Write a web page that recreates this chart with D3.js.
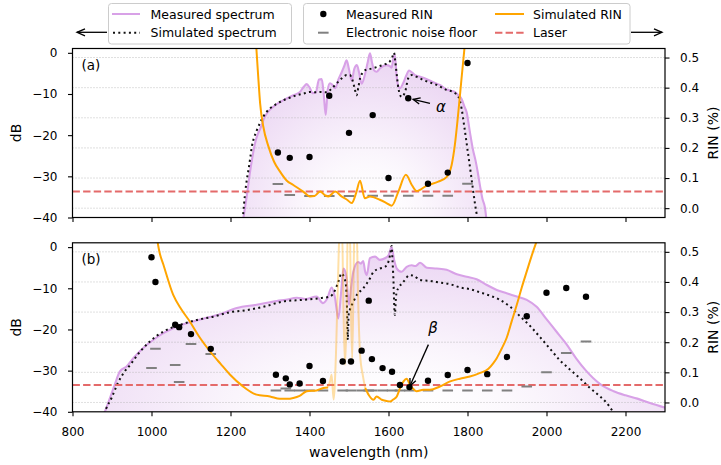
<!DOCTYPE html>
<html><head><meta charset="utf-8">
<script src="https://cdn.jsdelivr.net/npm/d3@7"></script>
<style>
html,body{margin:0;padding:0;background:#fff;}
svg{display:block;font-family:"DejaVu Sans",sans-serif;}
</style></head><body>
<svg id="chart" width="721" height="465"></svg>
<script>
// ---- axis ticks ----
const wavelengthTicks = [800, 1000, 1200, 1400, 1600, 1800, 2000, 2200];
const dbTicks = [0, -10, -20, -30, -40];
const rinTicks = [0, 0.1, 0.2, 0.3, 0.4, 0.5];

// ---- panel (a) ----
// measured spectrum [wavelength nm, dB]
const measSpecA = [[1232,-40.5],[1236,-38],[1241,-34.9],[1249,-29.2],[1256,-25],[1262,-22],[1268,-20],[1275,-18.5],
  [1287,-15.5],[1300,-13.8],[1315,-12.6],[1334,-11.5],[1359,-10.3],[1375,-9.6],[1385,-8.3],[1393,-7.6],[1400,-8.4],
  [1408,-9.8],[1416,-9.6],[1424,-6.5],[1431,-6.4],[1436,-10],[1441,-15.1],[1446,-9],[1452,-7.4],[1458,-7.8],[1465,-8.6],
  [1473,-6.5],[1482,-4.6],[1488,-3.2],[1494,-1.8],[1500,-4],[1507,-6.8],[1513,-4],[1520,-3.0],[1526,-5],[1532,-7.5],
  [1540,-5.4],[1547,-2.5],[1553,-0.1],[1558,-2.2],[1563,-4.2],[1570,-4.6],[1578,-3.8],[1587,-3.2],[1595,-3.0],[1603,-3.2],
  [1608,-3.6],[1612,-1.5],[1616,-0.4],[1620,-5],[1624,-7.8],[1629,-8.6],[1637,-7.4],[1645,-5.5],[1652,-4.3],[1660,-4.8],
  [1667,-5.4],[1680,-5.8],[1697,-6.4],[1715,-7.2],[1730,-7.8],[1747,-8.9],[1758,-9.2],[1768,-9.5],[1777,-10.3],[1785,-11.2],
  [1792,-13],[1798,-14.5],[1806,-19.2],[1814,-23.6],[1820,-26],[1826,-29],[1832,-32.5],[1838,-35.5],[1844,-37.5],[1848,-40.5]];
// simulated spectrum [wavelength nm, dB]
const simSpecA = [[1231,-40.5],[1234,-37],[1237,-34.1],[1241,-31],[1245.5,-28.4],[1250,-25.5],[1254,-22.8],[1260,-20.5],
  [1267,-18.7],[1275,-17],[1283,-15.5],[1300,-13.5],[1317,-12.4],[1334,-11.5],[1350,-10.9],[1368,-10.3],[1385,-9.9],
  [1401,-9.5],[1415,-9.6],[1427,-9.5],[1443,-9.6],[1458,-8.5],[1473,-7.0],[1484,-6.0],[1494,-5.4],[1502,-5.4],[1508,-6.4],
  [1514,-8.5],[1519,-10.3],[1524,-8.2],[1528,-6.2],[1535,-4.8],[1541,-4.2],[1550,-4.0],[1558,-3.8],[1578,-3.2],[1595,-2.6],
  [1604,-2.0],[1609,-1.2],[1614,0.0],[1617,-2.0],[1620,-4.5],[1625,-8.6],[1633,-10.7],[1642,-9.5],[1650,-6.2],[1659,-5.4],
  [1675,-6.0],[1688,-6.6],[1705,-7.2],[1722,-7.8],[1747,-9.0],[1765,-9.6],[1777,-10.7],[1785,-13.5],[1792,-18],[1800,-23.5],
  [1808,-29],[1815,-34],[1822,-38.5],[1826,-40.5]];
// measured RIN [wavelength nm, %]
const rinA = [[1320,0.185],[1350,0.167],[1400,0.170],[1450,0.373],[1500,0.250],[1560,0.309],[1600,0.100],[1650,0.365],
  [1700,0.081],[1750,0.118],[1800,0.482]];
// electronic noise floor [wavelength nm, %]
const noiseA = [[1320,0.080],[1350,0.044],[1400,0.040],[1450,0.040],[1500,0.040],[1560,0.041],[1600,0.041],[1650,0.041],
  [1700,0.041],[1750,0.041],[1800,0.081]];
// simulated RIN [wavelength nm, %]
const simRinA = [[1264,0.56],[1270,0.44],[1275,0.348],[1283,0.271],[1296,0.205],[1310,0.155],[1325,0.122],[1342,0.092],
  [1359,0.077],[1384,0.055],[1401,0.039],[1412,0.040],[1427,0.055],[1440,0.042],[1448,0.039],[1465,0.055],[1481,0.039],
  [1495,0.028],[1507,0.017],[1518,0.05],[1528,0.091],[1540,0.033],[1553,0.039],[1578,0.028],[1595,0.017],[1608,0.008],
  [1625,0.055],[1644,0.111],[1659,0.077],[1671,0.057],[1697,0.075],[1726,0.088],[1747,0.103],[1760,0.144],[1768,0.21],
  [1777,0.321],[1785,0.432],[1793,0.54]];
const laserA = 0.055;

// ---- panel (b) ----
const measSpecB = [[880,-40.5],[884,-39.5],[895,-36.6],[907,-33.4],[920,-30.2],[937,-29.0],[954,-27.0],[979,-24.5],
  [1005,-22.5],[1030,-20.9],[1055,-19.7],[1089,-18.5],[1131,-17.4],[1173,-16.3],[1216,-14.8],[1266,-14.0],[1300,-13.4],
  [1317,-13.1],[1340,-12.8],[1368,-12.3],[1390,-12.6],[1418,-12.0],[1434,-13.6],[1445,-12.5],[1456,-9.8],[1464,-12],
  [1473,-17.3],[1480,-11],[1486,-5.2],[1493,-7],[1500,-14],[1505,-10],[1511,-6.0],[1523,-3.6],[1530,-4],[1536,-3.4],
  [1541,-6.0],[1545,-6.8],[1553,-2.7],[1566,-2.3],[1578,-3.1],[1591,-2.7],[1600,-2.0],[1608,0.0],[1614,-3],[1621,-5.2],
  [1633,-6.0],[1646,-4.8],[1659,-4.4],[1668,-4.6],[1680,-3.8],[1697,-5.0],[1722,-5.2],[1747,-5.5],[1773,-6.6],[1798,-7.2],
  [1823,-7.8],[1849,-9.2],[1874,-10.4],[1899,-11.2],[1925,-12.0],[1950,-12.8],[1975,-14.5],[2000,-17.5],[2025,-20.5],
  [2050,-23.5],[2075,-27.0],[2100,-30.0],[2135,-33.2],[2170,-35.0],[2200,-36.0],[2230,-36.8],[2260,-37.8],[2300,-39.0]];
const simSpecB = [[880,-40.5],[884,-39.5],[899,-36.6],[915,-33],[930,-30.5],[946,-28.6],[971,-25.4],[996,-22.9],
  [1030,-20.5],[1072,-18.9],[1114,-17.7],[1156,-16.9],[1199,-15.8],[1241,-15.3],[1283,-14.5],[1334,-13.2],[1384,-12.8],
  [1427,-12.4],[1452,-12.0],[1465,-10.4],[1473,-8.4],[1481,-6.4],[1488,-7.5],[1492,-9],[1495,-15],[1497,-22.5],
  [1499,-16.5],[1503,-15],[1510,-13.5],[1520,-11.6],[1536,-10.0],[1553,-7.6],[1562,-6.0],[1578,-5.2],[1591,-4.8],
  [1600,-3.5],[1604,-1.9],[1608,0.3],[1610,-3],[1612,-6.8],[1616,-16.5],[1619,-12],[1621,-10.8],[1625,-10.0],[1638,-8.4],
  [1654,-6.8],[1665,-7.0],[1680,-8.0],[1705,-8.2],[1730,-8.6],[1756,-9.0],[1781,-9.8],[1806,-10.2],[1832,-11.0],
  [1857,-11.8],[1882,-12.8],[1908,-14.5],[1933,-16.8],[1958,-19.1],[1984,-21.9],[2009,-24.7],[2034,-27.5],[2059,-29.7],
  [2084,-31.8],[2110,-34.2],[2135,-36.2],[2152,-37.8],[2165,-39.5],[2172,-40.5]];
const rinB = [[1000,0.482],[1010,0.400],[1060,0.258],[1070,0.250],[1100,0.227],[1150,0.178],[1315,0.092],[1340,0.080],
  [1350,0.060],[1375,0.063],[1400,0.121],[1434,0.071],[1484,0.136],[1505,0.136],[1532,0.172],[1550,0.338],[1558,0.144],
  [1585,0.114],[1609,0.102],[1629,0.058],[1653,0.051],[1700,0.072],[1750,0.091],[1800,0.108],[1850,0.094],[1900,0.151],
  [1950,0.286],[2000,0.364],[2050,0.380],[2100,0.351]];
const noiseB = [[1000,0.114],[1010,0.178],[1060,0.124],[1070,0.068],[1100,0.194],[1150,0.161],[1315,0.040],[1340,0.046],
  [1350,0.040],[1375,0.040],[1400,0.040],[1434,0.040],[1484,0.040],[1505,0.040],[1532,0.040],[1550,0.040],[1558,0.040],
  [1585,0.040],[1609,0.040],[1629,0.040],[1653,0.040],[1700,0.040],[1750,0.040],[1800,0.040],[1850,0.040],[1900,0.040],
  [1950,0.053],[2000,0.100],[2050,0.164],[2100,0.202]];
// simulated RIN, drawn in three pieces: solid / faded (around the pump) / solid
const simRinB1 = [[1012,0.56],[1020,0.50],[1030,0.458],[1055,0.357],[1075,0.31],[1097,0.269],[1120,0.22],[1148,0.170],
  [1175,0.128],[1199,0.092],[1230,0.055],[1266,0.026],[1300,0.020],[1325,0.012],[1345,0.012],[1359,0.015],[1375,0.022],
  [1393,0.037],[1418,0.040],[1435,0.048],[1447,0.05]];
const simRinB2 = [[1447,0.05],[1452,0.07],[1456,0.092],[1461,0.01],[1467,0.16],[1473,0.45],[1477,0.6],[1482,0.6],
  [1486,0.31],[1490,0.125],[1494,0.3],[1497,0.6],[1502,0.6],[1505,0.3],[1508,0.147],[1511,0.35],[1514,0.6],[1519,0.6],
  [1523,0.35],[1528,0.16],[1535,0.09],[1541,0.048]];
const simRinB3 = [[1541,0.048],[1550,0.025],[1562,0.009],[1570,0.020],[1583,0.009],[1595,0.005],[1604,0.003],[1612,0.01],
  [1621,0.020],[1630,0.05],[1638,0.070],[1646,0.079],[1654,0.059],[1663,0.045],[1671,0.037],[1688,0.042],[1705,0.042],
  [1730,0.053],[1756,0.070],[1781,0.079],[1806,0.086],[1832,0.098],[1853,0.112],[1865,0.13],[1874,0.147],[1887,0.18],
  [1899,0.214],[1912,0.27],[1925,0.325],[1937,0.38],[1950,0.435],[1962,0.485],[1975,0.535],[1985,0.57]];
const laserB = 0.058;

// annotations: [label, text position (nm, %), target point (nm, %)]
const annotations = [
  {panel: "a", label: "α", text: [1733, 0.337], tail: [1705, 0.348], head: [1650, 0.365]},
  {panel: "b", label: "β", text: [1713, 0.247], tail: [1701, 0.192], head: [1653, 0.051]}
];

// ---- styles ----
const C = {meas: "#d8a1e7", sim: "#111111", rin: "#000000", noise: "#808080", simRin: "#ffa500", laser: "#e46a6a",
  grid: "#b0b0b0", fill: "#c98fde"};
const FONT_TICK = 12, FONT_LABEL = 14, FONT_LEG = 12.5;

const svg = d3.select("#chart");
const defs = svg.append("defs");
const x = d3.scaleLinear().domain([800, 2300]).range([72.5, 665]);
const [X0, X1] = x.range();

const panels = [
  {key: "a", label: "(a)", top: 48.5, bottom: 217.5, meas: measSpecA, sim: simSpecA, rin: rinA, noise: noiseA,
   simRin: [{pts: simRinA, faint: false}], laser: laserA, showX: false},
  {key: "b", label: "(b)", top: 242.8, bottom: 411.8, meas: measSpecB, sim: simSpecB, rin: rinB, noise: noiseB,
   simRin: [{pts: simRinB1, faint: false}, {pts: simRinB2, faint: true}, {pts: simRinB3, faint: false}],
   laser: laserB, showX: true}
];

function arrowHead(g, x1, y1, x2, y2, len, half) {
  const a = Math.atan2(y2 - y1, x2 - x1);
  const p1 = [x2 - len * Math.cos(a) + half * Math.sin(a), y2 - len * Math.sin(a) - half * Math.cos(a)];
  const p2 = [x2 - len * Math.cos(a) - half * Math.sin(a), y2 - len * Math.sin(a) + half * Math.cos(a)];
  g.append("path").attr("d", `M${p1}L${x2},${y2}L${p2}`).attr("fill", "none").attr("stroke", "#000")
    .attr("stroke-width", 1.3);
}

panels.forEach(p => {
  const yDb = d3.scaleLinear().domain([-40, 1.05]).range([p.bottom, p.top]);
  const yR = d3.scaleLinear().domain([-0.031, 0.53]).range([p.bottom, p.top]);
  const g = svg.append("g");

  defs.append("clipPath").attr("id", "clip-" + p.key).append("rect")
    .attr("x", X0).attr("y", p.top).attr("width", X1 - X0).attr("height", p.bottom - p.top);
  // radial shading: white at the bottom centre, lavender towards the edges
  const grad = defs.append("radialGradient").attr("id", "fill-" + p.key)
    .attr("cx", 0.5).attr("cy", 1).attr("fx", 0.5).attr("fy", 1).attr("r", 0.72)
    .attr("gradientTransform", "translate(0.5,1) scale(1,1.5) translate(-0.5,-1)");
  grad.append("stop").attr("offset", 0).attr("stop-color", "#ffffff").attr("stop-opacity", 0);
  grad.append("stop").attr("offset", 0.4).attr("stop-color", C.fill).attr("stop-opacity", 0.1);
  grad.append("stop").attr("offset", 1).attr("stop-color", C.fill).attr("stop-opacity", 0.42);

  const plot = g.append("g").attr("clip-path", `url(#clip-${p.key})`);

  // shaded area under the measured spectrum
  const area = d3.area().x(d => x(d[0])).y0(yDb(-40)).y1(d => yDb(d[1])).curve(d3.curveMonotoneX);
  plot.append("path").datum(p.meas).attr("d", area).attr("fill", `url(#fill-${p.key})`);

  // horizontal grid on the RIN axis
  plot.selectAll("line.grid").data(rinTicks).join("line").attr("class", "grid")
    .attr("x1", X0).attr("x2", X1).attr("y1", d => yR(d)).attr("y2", d => yR(d))
    .attr("stroke", C.grid).attr("stroke-width", 0.8).attr("stroke-dasharray", "1,2");

  const lineDb = d3.line().x(d => x(d[0])).y(d => yDb(d[1])).curve(d3.curveMonotoneX);
  const lineR = d3.line().x(d => x(d[0])).y(d => yR(d[1])).curve(d3.curveMonotoneX);

  plot.append("path").datum(p.meas).attr("d", lineDb).attr("fill", "none")
    .attr("stroke", C.meas).attr("stroke-width", 2.1).attr("stroke-linejoin", "round");
  plot.append("path").datum(p.sim).attr("d", lineDb).attr("fill", "none")
    .attr("stroke", C.sim).attr("stroke-width", 2).attr("stroke-dasharray", "2,3.3");

  // laser RIN level
  plot.append("line").attr("x1", X0).attr("x2", X1).attr("y1", yR(p.laser)).attr("y2", yR(p.laser))
    .attr("stroke", C.laser).attr("stroke-width", 2).attr("stroke-dasharray", "7.4,3.2");

  // electronic noise floor
  plot.selectAll("line.noise").data(p.noise).join("line").attr("class", "noise")
    .attr("x1", d => x(d[0]) - 5.3).attr("x2", d => x(d[0]) + 5.3)
    .attr("y1", d => yR(d[1])).attr("y2", d => yR(d[1]))
    .attr("stroke", C.noise).attr("stroke-width", 2);

  // simulated RIN
  p.simRin.forEach(s => {
    plot.append("path").datum(s.pts).attr("d", lineR).attr("fill", "none")
      .attr("stroke", C.simRin).attr("stroke-width", 2).attr("stroke-opacity", s.faint ? 0.35 : 1)
      .attr("stroke-linejoin", "round");
  });

  // measured RIN
  plot.selectAll("circle.rin").data(p.rin).join("circle").attr("class", "rin")
    .attr("cx", d => x(d[0])).attr("cy", d => yR(d[1])).attr("r", 3.2).attr("fill", C.rin);

  // annotations
  annotations.filter(a => a.panel === p.key).forEach(a => {
    g.append("text").attr("x", x(a.text[0])).attr("y", yR(a.text[1])).attr("dy", "0.35em")
      .attr("text-anchor", "middle").attr("font-style", "italic").attr("font-size", 15).text(a.label);
    const tx = x(a.tail[0]), ty = yR(a.tail[1]);
    let hx = x(a.head[0]), hy = yR(a.head[1]);
    const ang = Math.atan2(hy - ty, hx - tx);
    const shrink = a.panel === "a" ? 5 : 1.5;
    hx -= shrink * Math.cos(ang); hy -= shrink * Math.sin(ang);
    g.append("line").attr("x1", tx).attr("y1", ty).attr("x2", hx).attr("y2", hy)
      .attr("stroke", "#000").attr("stroke-width", 1.3);
    arrowHead(g, tx, ty, hx, hy, 7, 3.2);
  });

  // axes
  const left = g.append("g").attr("transform", `translate(${X0},0)`)
    .call(d3.axisLeft(yDb).tickValues(dbTicks).tickSize(4.5).tickPadding(10.5));
  const right = g.append("g").attr("transform", `translate(${X1},0)`)
    .call(d3.axisRight(yR).tickValues(rinTicks).tickSize(4.5).tickPadding(10.5).tickFormat(d3.format(".1f")));
  const bottom = g.append("g").attr("transform", `translate(0,${p.bottom})`)
    .call(d3.axisBottom(x).tickValues(wavelengthTicks).tickSize(4.5).tickPadding(11.5)
      .tickFormat(p.showX ? d3.format("d") : () => ""));
  [left, right, bottom].forEach(ax => {
    ax.select(".domain").remove();
    ax.selectAll(".tick line").attr("stroke", "#000").attr("stroke-width", 1.1);
    ax.selectAll(".tick text").attr("font-size", FONT_TICK).attr("font-family", "DejaVu Sans").attr("fill", "#000");
  });

  // frame
  g.append("rect").attr("x", X0).attr("y", p.top).attr("width", X1 - X0).attr("height", p.bottom - p.top)
    .attr("fill", "none").attr("stroke", "#000").attr("stroke-width", 1.2);

  // panel tag and axis titles
  g.append("text").attr("x", 81.5).attr("y", p.top + 21.3).attr("font-size", 13.5).text(p.label);
  const mid = (p.top + p.bottom) / 2;
  g.append("text").attr("transform", `translate(21,${mid}) rotate(-90)`).attr("text-anchor", "middle")
    .attr("font-size", FONT_LABEL).text("dB");
  g.append("text").attr("transform", `translate(718,${mid}) rotate(-90)`).attr("text-anchor", "middle")
    .attr("font-size", FONT_LABEL).text("RIN (%)");
});

svg.append("text").attr("x", 368.7).attr("y", 456.5).attr("text-anchor", "middle")
  .attr("font-size", FONT_LABEL).text("wavelength (nm)");

// ---- legend ----
const leg = svg.append("g").attr("font-size", FONT_LEG);
const row1 = 14, row2 = 32.7;
leg.append("rect").attr("x", 108.5).attr("y", 3.5).attr("width", 183).attr("height", 40.5).attr("rx", 3)
  .attr("fill", "#fff").attr("fill-opacity", 0.85).attr("stroke", "#cccccc").attr("stroke-width", 1);
leg.append("rect").attr("x", 303.5).attr("y", 3.5).attr("width", 326.5).attr("height", 40.5).attr("rx", 3)
  .attr("fill", "#fff").attr("fill-opacity", 0.85).attr("stroke", "#cccccc").attr("stroke-width", 1);

const legItems = [
  {x0: 112, x1: 140, y: row1, tx: 150.5, text: "Measured spectrum", kind: "line", color: C.meas},
  {x0: 113, x1: 140, y: row2, tx: 150.5, text: "Simulated spectrum", kind: "dots", color: C.sim},
  {x0: 323.3, x1: 323.3, y: row1, tx: 346, text: "Measured RIN", kind: "dot", color: C.rin},
  {x0: 318, x1: 328.6, y: row2, tx: 346, text: "Electronic noise floor", kind: "line", color: C.noise},
  {x0: 495, x1: 524, y: row1, tx: 533, text: "Simulated RIN", kind: "line", color: C.simRin},
  {x0: 495, x1: 524, y: row2, tx: 533, text: "Laser", kind: "dash", color: C.laser}
];
legItems.forEach(it => {
  if (it.kind === "dot") {
    leg.append("circle").attr("cx", it.x0).attr("cy", it.y).attr("r", 3.2).attr("fill", it.color);
  } else {
    const l = leg.append("line").attr("x1", it.x0).attr("x2", it.x1).attr("y1", it.y).attr("y2", it.y)
      .attr("stroke", it.color).attr("stroke-width", 2);
    if (it.kind === "dots") l.attr("stroke-dasharray", "2,3.3");
    if (it.kind === "dash") l.attr("stroke-dasharray", "7.4,3.2");
  }
  leg.append("text").attr("x", it.tx).attr("y", it.y).attr("dy", "0.36em").text(it.text);
});

// arrows beside the legend
const ay = 32.3;
leg.append("line").attr("x1", 107).attr("x2", 77).attr("y1", ay).attr("y2", ay).attr("stroke", "#000").attr("stroke-width", 1.3);
arrowHead(leg, 107, ay, 77, ay, 8, 3.5);
leg.append("line").attr("x1", 631).attr("x2", 662).attr("y1", ay).attr("y2", ay).attr("stroke", "#000").attr("stroke-width", 1.3);
arrowHead(leg, 631, ay, 662, ay, 8, 3.5);
</script></body></html>
